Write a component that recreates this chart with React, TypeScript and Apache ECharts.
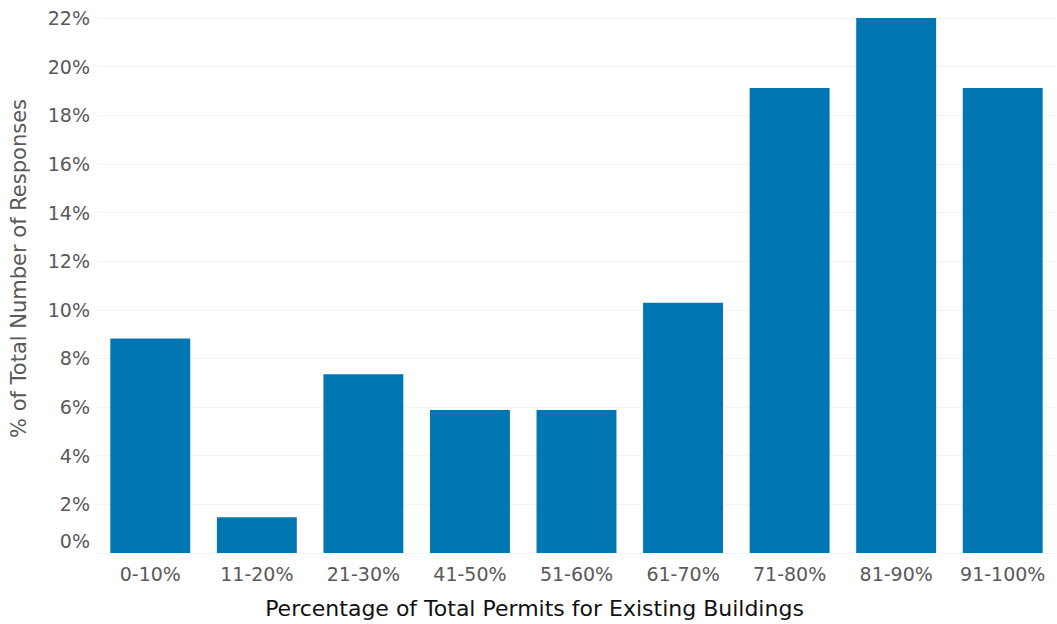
import React, { useEffect, useRef } from "react";
import * as echarts from "echarts";

const categories = ["0-10%", "11-20%", "21-30%", "41-50%", "51-60%", "61-70%", "71-80%", "81-90%", "91-100%"];
const values = [8.82, 1.47, 7.35, 5.88, 5.88, 10.29, 19.12, 22.06, 19.12];
const yMin = 0;
const yMax = 22;
const yStep = 2;

export default function App() {
  const ref = useRef<HTMLDivElement>(null);
  useEffect(() => {
    const chart = echarts.init(ref.current!, null, { renderer: "svg" });
    const font = "'Century Gothic', 'DejaVu Sans', sans-serif";
    chart.setOption({
      animation: false,
      backgroundColor: "#ffffff",
      grid: { left: 97, right: 1, top: 18, bottom: 61 },
      xAxis: {
        type: "category",
        data: categories,
        axisLine: { show: false },
        axisTick: { show: false },
        axisLabel: { color: "#595959", fontSize: 19, fontFamily: font, margin: 11, interval: 0 },
        name: "Percentage of Total Permits for Existing Buildings",
        nameLocation: "middle",
        nameGap: 44,
        nameTextStyle: { color: "#111111", fontSize: 22, fontFamily: font, padding: [0, 84, 0, 0] },
      },
      yAxis: {
        type: "value",
        min: yMin,
        max: yMax,
        interval: yStep,
        axisLine: { show: false },
        axisTick: { show: false },
        splitLine: { lineStyle: { color: "#f4f4f4", width: 1 } },
        axisLabel: {
          color: "#595959",
          fontSize: 19,
          fontFamily: font,
          margin: 7,
          formatter: (v: number) => (v === 0 ? "{z|0%}" : v + "%"),
          rich: { z: { color: "#595959", fontSize: 19, fontFamily: font, padding: [0, 0, 24, 0] } },
        },
        name: "% of Total Number of Responses",
        nameLocation: "middle",
        nameGap: 68,
        nameRotate: 90,
        nameTextStyle: { color: "#595959", fontSize: 21, fontFamily: font, padding: [0, 0, 0, 34] },
      },
      series: [
        {
          type: "bar",
          data: values,
          barCategoryGap: "25%",
          itemStyle: { color: "#0077B3" },
        },
      ],
    });
    return () => chart.dispose();
  }, []);
  return <div ref={ref} style={{ width: 1057, height: 624, position: "absolute", left: 0, top: 0 }} />;
}
